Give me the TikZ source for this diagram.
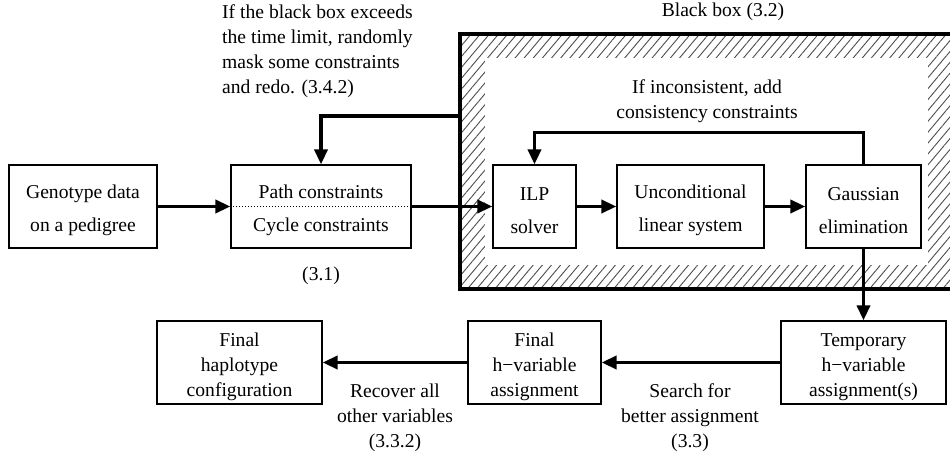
\documentclass[tikz,border=0pt]{standalone}
\usepackage{fontspec}
\setmainfont{Liberation Serif}
\usetikzlibrary{arrows.meta,patterns.meta}
\newcommand\topgap{\rule{0pt}{22pt}}

\begin{document}
\begin{tikzpicture}[x=1pt,y=-1pt,
    every node/.style={font=\fontsize{19.6}{25}\selectfont},
    blk/.style={draw,line width=1.2pt,align=center,minimum height=83pt,inner sep=2pt},
    arr/.style={line width=3.5pt,-{Triangle[length=15pt,width=13pt]}}]
  \useasboundingbox (0,0) rectangle (950,454);

  % black box with hatched frame
  \node[draw,line width=3.5pt,minimum width=500pt,minimum height=255pt,
    pattern={Lines[angle=50,distance=7pt,line width=0.9pt]},pattern color=black!70] (bbox) at (710,161.5) {};
  \node[fill=white,minimum width=443pt,minimum height=207pt] (bin) at (706.5,161.5) {};
  \node (bblabel) at (723,12) {Black box (3.2)};
  \node[align=center] (inclabel) at (707,101) {If inconsistent, add\\consistency constraints};

  \node[blk,minimum width=148pt] (geno) at (83,206.5) {\topgap Genotype data\\[8pt]on a pedigree};
  \node[blk,minimum width=180pt] (cons) at (321,206.5) {\topgap Path constraints\\[8pt]Cycle constraints};
  \draw[dotted,line width=1pt] (cons.west) -- (cons.east);
  \node (sec31) at (321,276) {(3.1)};
  \node[align=left,anchor=west,inner sep=0pt] (timelabel) at (222,51) {If the black box exceeds\\the time limit, randomly\\mask some constraints\\and redo. (3.4.2)};

  \node[blk,minimum width=83pt] (ilp) at (534.5,206.5) {\topgap ILP\\[8pt]solver};
  \node[blk,minimum width=147pt] (uncond) at (690.5,206.5) {\topgap Unconditional\\[8pt]linear system};
  \node[blk,minimum width=115pt] (gauss) at (863.5,206.5) {\topgap Gaussian\\[8pt]elimination};

  \node[blk,minimum width=165pt] (temp) at (863.5,362.5) {\topgap Temporary\\h−variable\\assignment(s)};
  \node[blk,minimum width=133pt] (finalh) at (534.5,362.5) {\topgap Final\\h−variable\\assignment};
  \node[blk,minimum width=165pt] (haplo) at (239.5,362.5) {\topgap Final\\haplotype\\configuration};
  \node[align=center] (srchlabel) at (690,418) {Search for\\better assignment\\(3.3)};
  \node[align=center] (reclabel) at (395,418) {Recover all\\other variables\\(3.3.2)};

  \draw[arr] (geno) -- (cons);
  \draw[arr] (cons) -- (ilp);
  \draw[arr] (ilp) -- (uncond);
  \draw[arr] (uncond) -- (gauss);
  \draw[arr] (gauss.north) -- ++(0,-32) -| (ilp.north);
  \draw[arr] ([yshift=45.5pt]bbox.west) -| (cons.north);
  \draw[arr] (gauss) -- (temp);
  \draw[arr] (temp) -- (finalh);
  \draw[arr] (finalh) -- (haplo);
\end{tikzpicture}
\end{document}
